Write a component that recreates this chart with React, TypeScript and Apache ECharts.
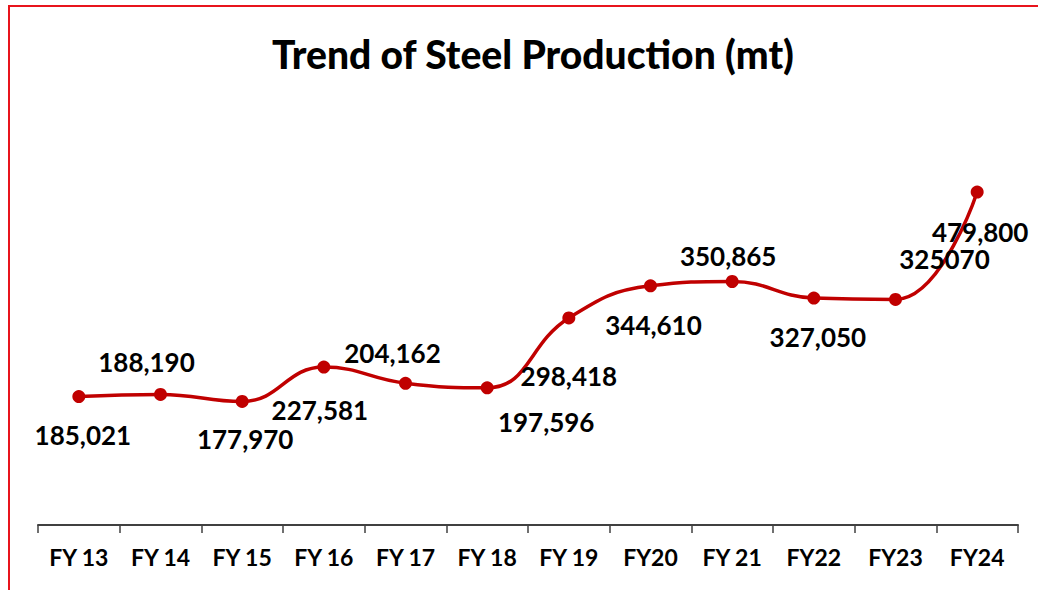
import React, { useEffect, useRef } from "react";
import * as echarts from "echarts";

const categories = ["FY 13", "FY 14", "FY 15", "FY 16", "FY 17", "FY 18", "FY 19", "FY20", "FY 21", "FY22", "FY23", "FY24"];
const production = [185021, 188190, 177970, 227581, 204162, 197596, 298418, 344610, 350865, 327050, 325070, 479800];
const valueLabels = ["185,021", "188,190", "177,970", "227,581", "204,162", "197,596", "298,418", "344,610", "350,865", "327,050", "325070", "479,800"];
// label offsets (px) from each marker, as placed in the reference
const labelOffsets = [
  [4, 38], [-14, -32], [3, 38], [-4, 43], [-13, -30], [59, 34],
  [0, 58], [3, 39], [-4, -25], [4, 39], [49, -40], [3, 40],
];

const FONT = "Lato, 'Open Sans', sans-serif";

export default function App() {
  const ref = useRef<HTMLDivElement>(null);
  useEffect(() => {
    if (!ref.current) return;
    const chart = echarts.init(ref.current, null, { renderer: "svg" });
    chart.setOption({
      animation: false,
      backgroundColor: "#ffffff",
      title: {
        text: "Trend of Steel Production (mt)",
        left: 518,
        top: 22,
        textAlign: "center",
        textStyle: { fontFamily: FONT, fontWeight: 900, fontSize: 39, color: "#000000" },
      },
      grid: { left: 28, width: 980, top: 171, height: 347 },
      xAxis: {
        type: "category",
        data: categories,
        boundaryGap: true,
        axisLine: { show: true, lineStyle: { color: "#404040", width: 2 } },
        axisTick: { show: true, length: 8, alignWithLabel: false, lineStyle: { color: "#404040", width: 1.5 } },
        axisLabel: { margin: 20, fontFamily: FONT, fontWeight: "bold", fontSize: 23, color: "#000000", interval: 0 },
      },
      yAxis: {
        type: "value",
        min: 0,
        max: 500000,
        show: false,
        splitLine: { show: false },
      },
      series: [
        {
          type: "line",
          smooth: 0.45,
          data: production.map((v, i) => ({
            value: v,
            label: { offset: labelOffsets[i] },
          })),
          lineStyle: { color: "#c00000", width: 3.5 },
          itemStyle: { color: "#c00000" },
          symbol: "circle",
          symbolSize: 13,
          label: {
            show: true,
            position: "inside",
            formatter: (p: any) => valueLabels[p.dataIndex],
            fontFamily: FONT,
            fontWeight: "bold",
            fontSize: 26,
            color: "#000000",
          },
        },
      ],
    });
    return () => chart.dispose();
  }, []);
  return (
    <div
      style={{
        position: "absolute",
        left: 8,
        top: 5,
        borderTop: "2px solid #e8141c",
        borderLeft: "2px solid #e8141c",
        background: "#ffffff",
      }}
    >
      <div ref={ref} style={{ width: 1028, height: 583 }} />
    </div>
  );
}
